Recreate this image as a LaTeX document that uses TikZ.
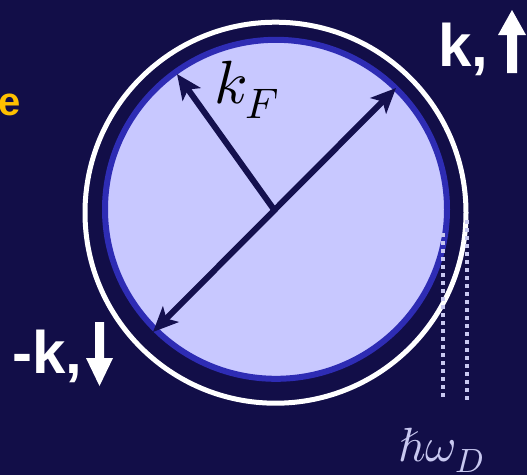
\documentclass[tikz,border=0pt]{standalone}
\usepackage{fontspec}
\setmainfont{Liberation Sans}
\usepackage{unicode-math}
\setmathfont{Latin Modern Math}
\usetikzlibrary{arrows.meta}
\definecolor{bg}{RGB}{18,14,72}
\definecolor{fermi}{RGB}{200,200,255}
\definecolor{rim}{RGB}{46,44,180}
\definecolor{arrowc}{RGB}{20,16,78}
\definecolor{dotc}{RGB}{200,200,240}
\definecolor{orange}{RGB}{255,192,0}
\tikzset{
  vec/.style={draw=arrowc, line width=6pt, -{Stealth[length=25pt,width=22pt,inset=6pt]}},
  dvec/.style={vec, {Stealth[length=25pt,width=22pt,inset=6pt]}-{Stealth[length=25pt,width=22pt,inset=6pt]}},
  dotline/.style={draw=dotc, line width=3.5pt, dash pattern=on 3.5pt off 4.5pt},
  bigsans/.style={inner sep=0pt, text=white, font=\fontsize{60}{60}\selectfont\bfseries},
  blockarrow/.style={fill=white, draw=none}
}
\begin{document}
\begin{tikzpicture}[x=1pt,y=-1pt]
\fill[bg] (0,0) rectangle (527,475);
\useasboundingbox (0,0) rectangle (527,475);
% Fermi sphere and shell
\draw[white, line width=5pt] (275.5,212.7) circle [radius=190.5pt];
\draw[rim, fill=fermi, line width=6pt] (276,209.3) ellipse [x radius=171pt, y radius=169.5pt];
% Debye window
\coordinate (d1a) at (443,233);
\coordinate (d1b) at (443,400);
\coordinate (d2a) at (467,220);
\coordinate (d2b) at (467,400);
\draw[dotline] (d1a) -- (d1b);
\draw[dotline] (d2a) -- (d2b);
% vectors
\coordinate (c) at (275,211);
\coordinate (ul) at (177,74);
\coordinate (ur) at (396,88);
\coordinate (ll) at (153,332);
\draw[dvec] (ll) -- (ur);
\draw[vec] (c) -- (ul);
% labels
\node[inner sep=0pt, anchor=base west, text=black, font=\fontsize{61}{61}\selectfont] (kf) at (214,103) {$k_F$};
\node[inner sep=0pt, anchor=base west, text=dotc, font=\fontsize{48}{48}\selectfont] (hw) at (398,461) {$\hbar\omega_D$};
\node[bigsans, anchor=base west] (kup) at (438,66) {k,};
\node[bigsans, anchor=base west] (kdn) at (12,373) {-k,};
\node[inner sep=0pt, anchor=base east, text=orange, font=\fontsize{40}{40}\selectfont\bfseries] (e) at (20.5,115) {e};
% spin arrows
\fill[blockarrow] (512,10) -- (526,35) -- (517,35) -- (517,73) -- (507,73) -- (507,35) -- (498,35) -- cycle;
\fill[blockarrow] (99.5,386) -- (113,358) -- (104,358) -- (104,322) -- (95,322) -- (95,358) -- (86,358) -- cycle;
\end{tikzpicture}
\end{document}
